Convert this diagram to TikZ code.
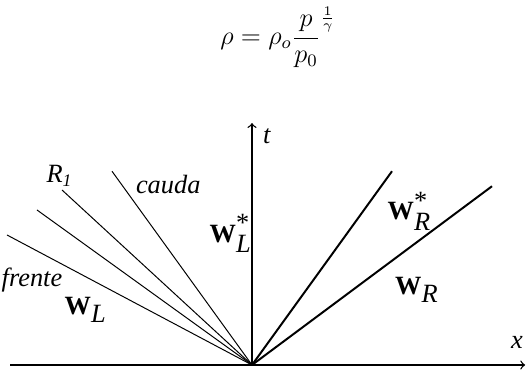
\documentclass[tikz,border=0pt]{standalone}
\usepackage[no-math]{fontspec}
\setmainfont{Liberation Serif}

\begin{document}
\begin{tikzpicture}[scale=1.0, >=to,
    every node/.style={font=\large},
    leque/.style={line width=0.45pt},
    choque/.style={line width=0.9pt},
    eixo/.style={line width=0.6pt}]
    \useasboundingbox (-4.032,-0.144) rectangle (4.400,5.840);

    \coordinate (O) at (0,0);
    \coordinate (xi) at (-3.87,0);
    \coordinate (xf) at (4.37,0);
    \coordinate (tf) at (0,3.87);

    \draw[eixo, ->] (xi) -- (xf);
    \draw[eixo, ->] (O) -- (tf);

    % rarefacao
    \coordinate (F) at (-3.92,2.08);
    \coordinate (M) at (-3.44,2.48);
    \coordinate (R) at (-3.04,2.80);
    \coordinate (C) at (-2.24,3.10);

    \draw[leque] (O) -- (F);
    \draw[leque] (O) -- (M);
    \draw[leque] (O) -- (R);
    \draw[leque] (O) -- (C);

    % contato e choque
    \coordinate (K) at (2.24,3.10);
    \coordinate (S) at (3.84,2.86);

    \draw[choque] (O) -- (K);
    \draw[choque] (O) -- (S);

    \node (eq) at (0.42,5.24) {$\displaystyle \rho = \rho_o \frac{p}{p_0}^{\frac{1}{\gamma}}$};

    \node (lt) at (0.24,3.66) {\textit{t}};
    \node (lx) at (4.24,0.36) {\textit{x}};
    \node (lr) at (-3.08,3.02) {\textit{R}\textsubscript{\textit{1}}};
    \node (lc) at (-1.34,2.88) {\textit{cauda}};
    \node (lf) at (-3.52,1.36) {\textit{frente}};
    \node (wl) at (-2.66,0.88) {$\textbf{W}_{\textit{L}}$};
    \node (wls) at (-0.34,2.10) {$\textbf{W}_{\textit{L}}^{\textnormal{*}}$};
    \node (wrs) at (2.52,2.46) {$\textbf{W}_{\textit{R}}^{\textnormal{*}}$};
    \node (wr) at (2.64,1.20) {$\textbf{W}_{\textit{R}}$};
\end{tikzpicture}
\end{document}
